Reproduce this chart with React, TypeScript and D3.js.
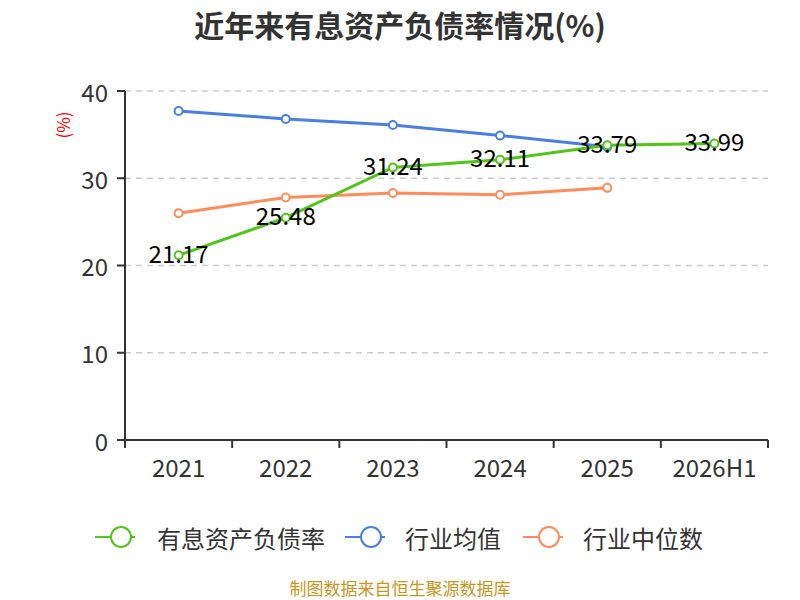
import React from "react";
import * as d3 from "d3";

const categories = ["2021", "2022", "2023", "2024", "2025", "2026H1"];
const debtRatio = [21.17, 25.48, 31.24, 32.11, 33.79, 33.99];
const industryAvg = [37.7, 36.8, 36.1, 34.9, 33.6, null];
const industryMedian = [26.0, 27.8, 28.3, 28.1, 28.9, null];
const yTicks = [0, 10, 20, 30, 40];
const seriesNames = ["有息资产负债率", "行业均值", "行业中位数"];
const colors = ["#52c41a", "#4a7fe0", "#ff8c5a"];

const W = 800;
const H = 600;
const left = 125;
const right = 768;
const top = 91;
const bottom = 440;
const font = "'Noto Sans CJK SC', 'Noto Sans', sans-serif";

export default function App() {
  const x = d3.scaleBand<string>().domain(categories).range([left, right]);
  const y = d3.scaleLinear().domain([0, 40]).range([bottom, top]);
  const cx = (c: string) => (x(c) as number) + x.bandwidth() / 2;

  const all = [debtRatio, industryAvg, industryMedian];
  const line = d3
    .line<number | null>()
    .defined((d) => d !== null)
    .x((_, i) => cx(categories[i]))
    .y((d) => y(d as number));

  const legendItems = [
    { x: 95, tx: 157 },
    { x: 345, tx: 405 },
    { x: 523, tx: 583 },
  ];

  return (
    <svg width={W} height={H} style={{ position: "absolute", left: 0, top: 0, background: "#fff" }}>
      <text x={400} y={24} textAnchor="middle" dominantBaseline="central" fontFamily={font} fontSize={30} fontWeight="bold" fill="#333">
        近年来有息资产负债率情况(%)
      </text>
      <text
        transform={`translate(62,125) rotate(-90)`}
        textAnchor="middle"
        dominantBaseline="central"
        fontFamily={font}
        fontSize={17}
        fill="#ff0000"
      >
        (%)
      </text>
      {yTicks.map((t) => (
        <g key={t}>
          {t > 0 && (
            <line x1={left} x2={right} y1={y(t)} y2={y(t)} stroke="#ccc" strokeWidth={1.5} strokeDasharray="6,5" />
          )}
          <line x1={left - 8} x2={left} y1={y(t)} y2={y(t)} stroke="#333" strokeWidth={2} />
          <text x={left - 17} y={y(t)} textAnchor="end" dominantBaseline="central" fontFamily={font} fontSize={24} fill="#333">
            {t}
          </text>
        </g>
      ))}
      <line x1={left} x2={left} y1={top} y2={bottom + 8} stroke="#333" strokeWidth={2} />
      <line x1={left} x2={right} y1={bottom} y2={bottom} stroke="#333" strokeWidth={2} />
      {[...categories.map((c) => x(c) as number), right].map((p, i) => (
        <line key={i} x1={p} x2={p} y1={bottom} y2={bottom + 8} stroke="#333" strokeWidth={2} />
      ))}
      {categories.map((c) => (
        <text key={c} x={cx(c)} y={466} textAnchor="middle" dominantBaseline="central" fontFamily={font} fontSize={24} fill="#333">
          {c}
        </text>
      ))}
      {[1, 2, 0].map((si) => (
        <g key={si}>
          <path d={line(all[si] as (number | null)[]) || ""} fill="none" stroke={colors[si]} strokeWidth={3} />
          {(all[si] as (number | null)[]).map((v, i) =>
            v === null ? null : (
              <circle key={i} cx={cx(categories[i])} cy={y(v)} r={4} fill="#fff" stroke={colors[si]} strokeWidth={2} />
            )
          )}
        </g>
      ))}
      {debtRatio.map((v, i) => (
        <text
          key={i}
          x={cx(categories[i])}
          y={y(v) - 3}
          textAnchor="middle"
          dominantBaseline="central"
          fontFamily={font}
          fontSize={24}
          fill="#000"
        >
          {v.toFixed(2)}
        </text>
      ))}
      {seriesNames.map((n, i) => (
        <g key={n}>
          <line x1={legendItems[i].x} x2={legendItems[i].x + 40} y1={537} y2={537} stroke={colors[i]} strokeWidth={2} />
          <circle cx={legendItems[i].x + 26} cy={537} r={10} fill="#fff" stroke={colors[i]} strokeWidth={2} />
          <text x={legendItems[i].tx} y={537} dominantBaseline="central" fontFamily={font} fontSize={24} fill="#333">
            {n}
          </text>
        </g>
      ))}
      <text x={400} y={587} textAnchor="middle" dominantBaseline="central" fontFamily={font} fontSize={17} fill="#c8961e">
        制图数据来自恒生聚源数据库
      </text>
    </svg>
  );
}
